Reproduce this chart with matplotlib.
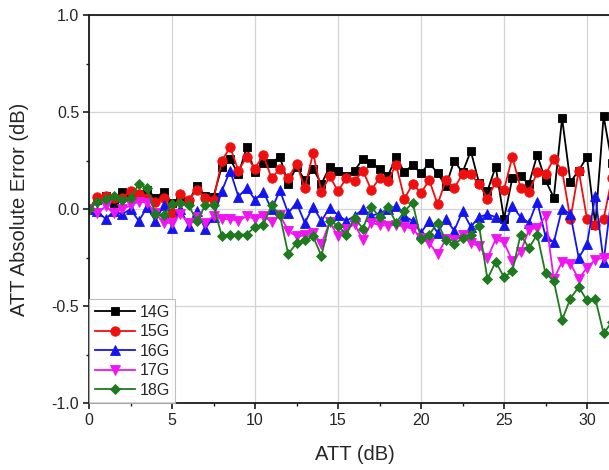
import numpy as np
import matplotlib
matplotlib.use("Agg")
import matplotlib.pyplot as plt
from matplotlib.ticker import MultipleLocator

plt.rcParams['font.family'] = ['Liberation Sans', 'DejaVu Sans']

# Attenuation setting (dB), 0.5 dB steps
att = np.arange(0, 32, 0.5)

err_14g = [0.00, 0.05, 0.07, 0.03, 0.09, 0.08, 0.08, 0.10, 0.06, 0.09,
           0.03, 0.05, 0.04, 0.12, 0.07, 0.065, 0.22, 0.26, 0.18, 0.32,
           0.19, 0.24, 0.24, 0.27, 0.13, 0.22, 0.15, 0.21, 0.13, 0.22,
           0.20, 0.17, 0.20, 0.26, 0.24, 0.21, 0.17, 0.27, 0.19, 0.23,
           0.185, 0.24, 0.185, 0.12, 0.25, 0.19, 0.30, 0.135, 0.094, 0.22,
           -0.05, 0.16, 0.17, 0.13, 0.28, 0.15, 0.06, 0.47, 0.14, 0.20,
           0.27, -0.08, 0.48, 0.24]

err_15g = [0.00, 0.065, 0.07, 0.06, 0.06, 0.094, 0.08, 0.06, 0.04, 0.06,
           -0.02, 0.08, 0.05, 0.10, 0.06, 0.05, 0.25, 0.32, 0.20, 0.27,
           0.21, 0.28, 0.16, 0.21, 0.16, 0.235, 0.11, 0.29, 0.09, 0.17,
           0.094, 0.16, 0.145, 0.20, 0.10, 0.16, 0.145, 0.23, 0.055, 0.13,
           0.085, 0.15, 0.026, 0.15, 0.11, 0.18, 0.18, 0.13, 0.055, 0.14,
           0.10, 0.27, 0.11, 0.09, 0.19, 0.18, 0.26, 0.20, -0.05, 0.20,
           -0.05, -0.08, -0.05, 0.16]

err_16g = [0.00, -0.01, -0.05, -0.01, -0.025, 0.00, -0.06, 0.01, -0.06, 0.02,
           -0.094, 0.00, -0.085, -0.01, -0.10, -0.04, 0.094, 0.20, 0.065, 0.11,
           0.05, 0.09, 0.00, 0.097, -0.02, 0.034, -0.07, 0.014, -0.06, 0.009,
           -0.03, -0.06, -0.034, 0.00, -0.034, -0.02, 0.00, 0.015, -0.034, -0.06,
           -0.12, -0.06, -0.12, -0.05, -0.11, -0.01, -0.09, -0.04, -0.026, -0.04,
           -0.082, 0.017, -0.04, -0.07, 0.04, -0.14, -0.17, 0.004, -0.026, -0.25,
           -0.18, 0.07, -0.27, 0.08]

err_17g = [0.00, -0.02, 0.015, -0.02, 0.00, 0.02, 0.04, 0.035, -0.02, -0.07,
           -0.07, -0.025, -0.07, -0.04, -0.07, -0.035, -0.05, -0.05, -0.06, -0.035,
           -0.05, -0.035, -0.065, -0.03, -0.11, -0.14, -0.135, -0.12, -0.18, -0.065,
           -0.14, -0.10, -0.077, -0.157, -0.07, -0.08, -0.085, -0.08, -0.09, -0.10,
           -0.15, -0.175, -0.23, -0.155, -0.16, -0.13, -0.175, -0.19, -0.25, -0.155,
           -0.17, -0.265, -0.22, -0.106, -0.094, -0.036, -0.36, -0.27, -0.28, -0.36,
           -0.30, -0.26, -0.25, -0.25]

err_18g = [0.00, 0.04, 0.055, 0.07, 0.05, 0.06, 0.128, 0.11, -0.026, -0.03,
           0.025, 0.034, 0.02, -0.06, 0.02, 0.02, -0.137, -0.13, -0.13, -0.13,
           -0.09, -0.08, 0.02, -0.03, -0.23, -0.175, -0.16, -0.14, -0.24, -0.06,
           -0.085, -0.13, -0.043, -0.10, 0.014, -0.04, 0.014, -0.07, -0.01, 0.034,
           -0.154, -0.13, -0.07, -0.16, -0.18, -0.15, -0.13, -0.086, -0.36, -0.27,
           -0.35, -0.32, -0.13, -0.20, -0.13, -0.33, -0.37, -0.57, -0.46, -0.40,
           -0.47, -0.46, -0.64, -0.58]

labels = ['14G', '15G', '16G', '17G', '18G']
series = [err_14g, err_15g, err_16g, err_17g, err_18g]
colors = ['#000000', '#f00f0f', '#1414f0', '#f014f0', '#1f7a1f']
markers = ['s', 'o', '^', 'v', 'D']
msizes = [6.0, 6.8, 7.0, 7.0, 5.6]

text_color = '#262626'

fig = plt.figure(figsize=(6.09, 4.70), dpi=100)
# axes box runs past the right edge of the figure
ax = fig.add_axes([89 / 609, (470 - 403.3) / 470, 32 * 16.6 / 609, 388 / 470])

for y, lab, c, m, ms in zip(series, labels, colors, markers, msizes):
    ax.plot(att, y, color=c, marker=m, markersize=ms, linewidth=1.3,
            markeredgewidth=0.6, markeredgecolor=c, label=lab, clip_on=True)

ax.set_xlim(0, 32)
ax.set_ylim(-1.0, 1.0)
ax.xaxis.set_major_locator(MultipleLocator(5))
ax.xaxis.set_minor_locator(MultipleLocator(2.5))
ax.yaxis.set_major_locator(MultipleLocator(0.5))
ax.yaxis.set_minor_locator(MultipleLocator(0.25))
ax.yaxis.set_major_formatter(matplotlib.ticker.FormatStrFormatter('%.1f'))

ax.grid(True, which='major', color='#d4d4d4', linewidth=0.9)
ax.set_axisbelow(True)

for side in ['left', 'bottom', 'top', 'right']:
    ax.spines[side].set_linewidth(1.3)
    ax.spines[side].set_color('#1a1a1a')

ax.tick_params(which='major', direction='out', length=4, width=1.2,
               labelsize=11.5, colors='#1a1a1a', labelcolor=text_color, pad=3)
ax.tick_params(which='minor', direction='out', length=2.5, width=1.0,
               colors='#1a1a1a')
ax.tick_params(top=False, right=False, which='both')

ax.set_xlabel('ATT (dB)', fontsize=14.5, color=text_color, labelpad=12)
ax.set_ylabel('ATT Absolute Error (dB)', fontsize=14.5, color=text_color,
              labelpad=16)

leg = ax.legend(loc='lower left', fontsize=11.5, frameon=True, fancybox=False,
                borderaxespad=0.0, handlelength=2.5, handletextpad=0.3,
                labelspacing=0.28, borderpad=0.35, numpoints=1)
leg.get_frame().set_edgecolor('#b0b0b0')
leg.get_frame().set_linewidth(0.8)
for t in leg.get_texts():
    t.set_color(text_color)

fig.savefig('out.png', dpi=100)
